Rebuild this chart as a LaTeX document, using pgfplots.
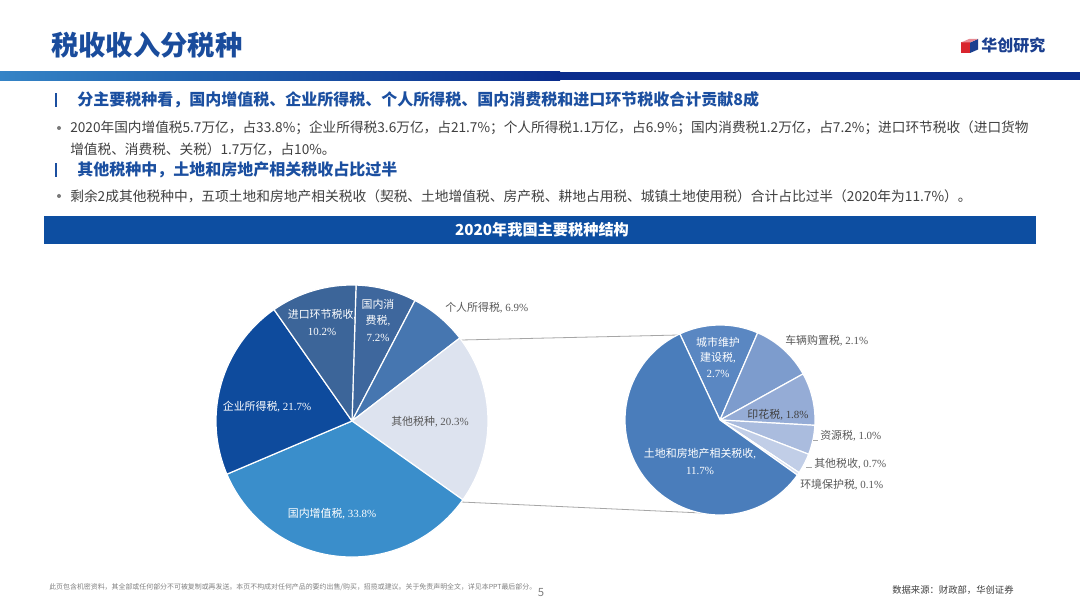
\documentclass[border=0pt]{standalone}
\usepackage{pgfplots}
\pgfplotsset{compat=1.18}
\usepackage{pgfplotstable}
\usepackage{fontspec}
\setmainfont{Liberation Serif}
\newfontfamily\cjk{Noto Sans CJK SC}
\newcommand\zh[1]{{\cjk #1}}

\definecolor{navy}{HTML}{0A2C8C}
\definecolor{barlight}{HTML}{3584C6}
\definecolor{barmid}{HTML}{2264B0}
\definecolor{titleblue}{HTML}{1A4C9C}
\definecolor{headblue}{HTML}{1B4FA0}
\definecolor{txtgray}{HTML}{404040}
\definecolor{lblgray}{HTML}{595959}
\definecolor{bannerblue}{HTML}{0D4EA1}
\definecolor{logored}{HTML}{D9252E}
\definecolor{logoblue}{HTML}{1B3F8F}
\definecolor{logopink}{HTML}{E88A93}
% left pie
\definecolor{cZZ}{HTML}{3A8ECB}
\definecolor{cQY}{HTML}{0E4B9D}
\definecolor{cJK}{HTML}{3C6599}
\definecolor{cXF}{HTML}{3E679D}
\definecolor{cGR}{HTML}{4676B0}
\definecolor{cQT}{HTML}{DDE3EF}
% right pie
\definecolor{rTD}{HTML}{4A7DBB}
\definecolor{rCS}{HTML}{5A87C2}
\definecolor{rCL}{HTML}{7D9CCD}
\definecolor{rYH}{HTML}{95ACD6}
\definecolor{rZY}{HTML}{AABCDE}
\definecolor{rQT}{HTML}{C1CEE7}
\definecolor{rHJ}{HTML}{D8E0F0}

% shares in %, clockwise from the top
\pgfplotstableread{
share color
7.2   cXF
6.9   cGR
20.3  cQT
33.8  cZZ
21.7  cQY
10.2  cJK
}\leftpie

\pgfplotstableread{
share color
2.7   rCS
2.1   rCL
1.8   rYH
1.0   rZY
0.7   rQT
0.1   rHJ
11.7  rTD
}\rightpie

% #1 table, #2 #3 centre (axis), #4 radius (px), #5 start angle, #6 total
\newcommand\drawpie[6]{%
  \pgfplotstablegetrowsof{#1}%
  \pgfmathtruncatemacro\lastrow{\pgfplotsretval-1}%
  \pgfmathsetlengthmacro\rad{#4*0.75pt}%
  \xdef\curang{#5}%
  \foreach \i in {0,...,\lastrow}{%
    \pgfplotstablegetelem{\i}{share}\of{#1}\let\val\pgfplotsretval
    \pgfplotstablegetelem{\i}{color}\of{#1}\let\col\pgfplotsretval
    \pgfmathsetmacro\endang{\curang-360*\val/#6}%
    \filldraw[fill=\col,draw=white,line width=0.9pt,line join=round]
      (axis cs:#2,#3) -- ++(\curang:\rad)
      arc[start angle=\curang,end angle=\endang,radius=\rad] -- cycle;
    \xdef\curang{\endang}%
  }%
}

\begin{document}
\begin{tikzpicture}[x=0.75pt,y=-0.75pt,
    lbl/.style={inner sep=0,font=\fontsize{8.2}{9.5}\selectfont}]
\useasboundingbox[fill=white] (0,0) rectangle (1080,605);

% header
\node[anchor=west,inner sep=0,text=titleblue,font=\cjk\bfseries\fontsize{20.5}{24}\selectfont] at (51,45) {税收收入分税种};
\fill[logored] (961,42.5) rectangle (970,53);
\fill[logoblue] (970,42.5) -- (978,39) -- (978,49.5) -- (970,53) -- cycle;
\fill[logopink] (961,42.5) -- (969,39) -- (978,39) -- (970,42.5) -- cycle;
\node[anchor=west,inner sep=0,text=logoblue,font=\cjk\bfseries\fontsize{12}{14}\selectfont] at (981,45.5) {华创研究};

\fill[navy] (0,72) rectangle (1080,80.5);
\shade[left color=barlight,right color=barmid] (0,72) rectangle (190,80.5);
\shade[left color=barmid,right color=navy] (189.5,72) rectangle (560,80.5);

% text block
\fill[headblue] (54.5,93) rectangle (56.5,107);
\node[anchor=west,inner sep=0,text=headblue,font=\cjk\bfseries\fontsize{12}{14}\selectfont] at (77,100) {分主要税种看，国内增值税、企业所得税、个人所得税、国内消费税和进口环节税收合计贡献8成};
\fill[txtgray!70] (59,128) circle[radius=2];
\node[anchor=west,inner sep=0,text=txtgray,font=\cjk\fontsize{10.25}{12}\selectfont] at (70,128) {2020年国内增值税5.7万亿，占33.8\%；企业所得税3.6万亿，占21.7\%；个人所得税1.1万亿，占6.9\%；国内消费税1.2万亿，占7.2\%；进口环节税收（进口货物};
\node[anchor=west,inner sep=0,text=txtgray,font=\cjk\fontsize{10.25}{12}\selectfont] at (70,149) {增值税、消费税、关税）1.7万亿，占10\%。};
\fill[headblue] (54.5,163) rectangle (56.5,177);
\node[anchor=west,inner sep=0,text=headblue,font=\cjk\bfseries\fontsize{12}{14}\selectfont] at (77,170) {其他税种中，土地和房地产相关税收占比过半};
\fill[txtgray!70] (59,196) circle[radius=2];
\node[anchor=west,inner sep=0,text=txtgray,font=\cjk\fontsize{10.3}{12}\selectfont] at (70,196) {剩余2成其他税种中，五项土地和房地产相关税收（契税、土地增值税、房产税、耕地占用税、城镇土地使用税）合计占比过半（2020年为11.7\%）。};

% chart banner
\fill[bannerblue] (44,216) rectangle (1036,244);
\node[text=white,inner sep=0,font=\cjk\bfseries\fontsize{11.4}{13}\selectfont] at (542,230) {2020年我国主要税种结构};

% footer
\node[anchor=west,inner sep=0,text=gray,font=\cjk\fontsize{5.2}{6}\selectfont] at (49,587) {此页包含机密资料，其全部或任何部分不可被复制或再发送。本页不构成对任何产品的要约出售/购买，招揽或建议。关于免责声明全文，详见本PPT最后部分。};
\node[inner sep=0,text=gray,font=\cjk\fontsize{8.5}{9}\selectfont] at (541,593) {5};
\node[anchor=west,inner sep=0,text=txtgray,font=\cjk\fontsize{7}{8}\selectfont] at (892,590) {数据来源：财政部，华创证券};

\begin{axis}[
    at={(0pt,-453.75pt)}, anchor=south west,
    x=0.75pt, y=0.75pt,
    xmin=0, xmax=1080, ymin=0, ymax=605,
    hide axis, clip=false,
]
\pgfplotsextra{%
  \draw[gray!70,line width=0.6pt] (axis cs:461,265) -- (axis cs:679,270);
  \draw[gray!70,line width=0.6pt] (axis cs:461,103) -- (axis cs:702,92);
  \drawpie{\leftpie}{352}{184}{136}{88.3}{100.1}%
  \drawpie{\rightpie}{720}{185}{95}{115}{20.1}%
  \draw[gray!70,line width=0.5pt] (axis cs:813,165) -- (axis cs:818,165);
  \draw[gray!70,line width=0.5pt] (axis cs:806,138) -- (axis cs:812,138);
}
% left pie labels
\node[lbl,text=white] at (axis cs:322,290) {\zh{进口环节税收},};
\node[lbl,text=white] at (axis cs:322,273) {10.2\%};
\node[lbl,text=white] at (axis cs:378,301) {\zh{国内消}};
\node[lbl,text=white] at (axis cs:378,284) {\zh{费税},};
\node[lbl,text=white] at (axis cs:378,267) {7.2\%};
\node[lbl,text=lblgray,anchor=west] at (axis cs:445,297) {\zh{个人所得税}, 6.9\%};
\node[lbl,text=white] at (axis cs:267,198) {\zh{企业所得税}, 21.7\%};
\node[lbl,text=lblgray] at (axis cs:430,183) {\zh{其他税种}, 20.3\%};
\node[lbl,text=white] at (axis cs:332,91) {\zh{国内增值税}, 33.8\%};
% right pie labels
\node[lbl,text=white] at (axis cs:718,263) {\zh{城市维护}};
\node[lbl,text=white] at (axis cs:718,247) {\zh{建设税},};
\node[lbl,text=white] at (axis cs:718,231) {2.7\%};
\node[lbl,text=lblgray,anchor=west] at (axis cs:785,264) {\zh{车辆购置税}, 2.1\%};
\node[lbl,text=txtgray] at (axis cs:778,190) {\zh{印花税}, 1.8\%};
\node[lbl,text=lblgray,anchor=west] at (axis cs:820,169) {\zh{资源税}, 1.0\%};
\node[lbl,text=lblgray,anchor=west] at (axis cs:814,141) {\zh{其他税收}, 0.7\%};
\node[lbl,text=lblgray,anchor=west] at (axis cs:800,120) {\zh{环境保护税}, 0.1\%};
\node[lbl,text=white] at (axis cs:700,151) {\zh{土地和房地产相关税收},};
\node[lbl,text=white] at (axis cs:700,134) {11.7\%};
\end{axis}
\end{tikzpicture}
\end{document}
